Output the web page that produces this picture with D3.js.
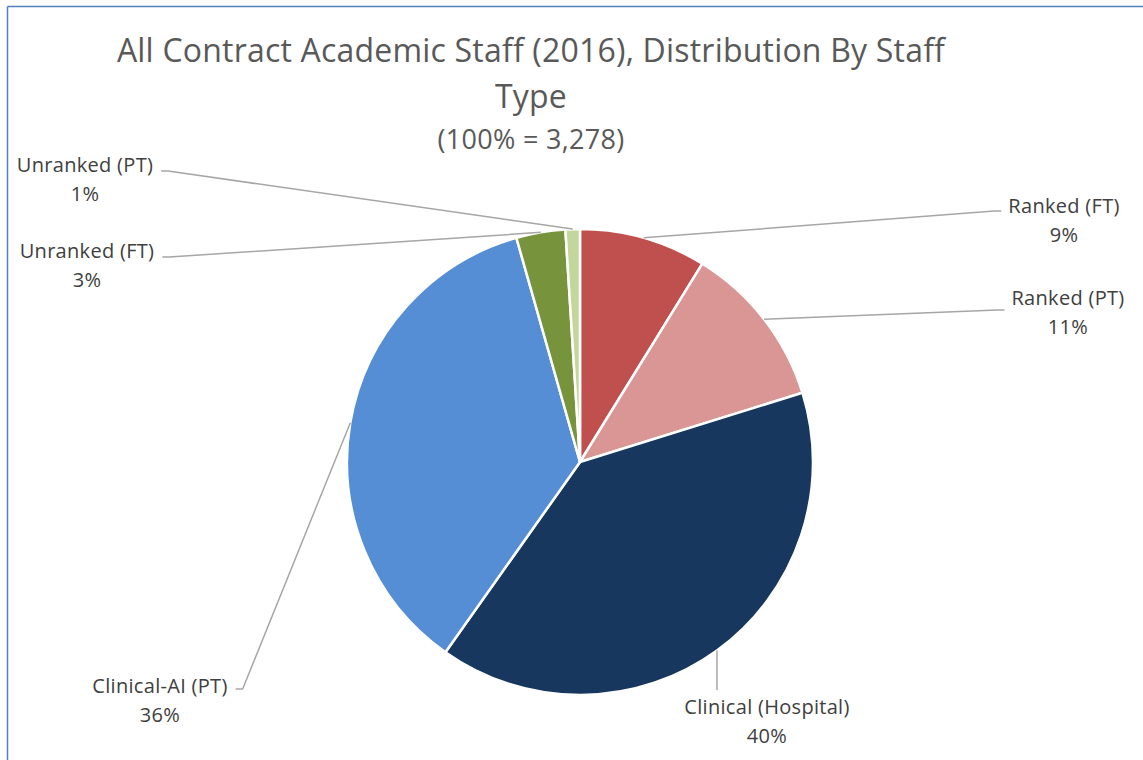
<!DOCTYPE html>
<html><head><meta charset="utf-8">
<script src="https://cdn.jsdelivr.net/npm/d3@7"></script>
<style>
html,body{margin:0;padding:0;background:#fff;}
svg{display:block;}
text{font-family:"Open Sans",Lato,sans-serif;fill:#595959;}
</style></head>
<body>
<svg id="chart" width="1143" height="760"></svg>
<script>
// ---- data ----
const categories = ["Ranked (FT)", "Ranked (PT)", "Clinical (Hospital)", "Clinical-AI (PT)", "Unranked (FT)", "Unranked (PT)"];
const shares = [8.8, 11.4, 39.6, 35.8, 3.4, 1.0];
const shareLabels = ["9%", "11%", "40%", "36%", "3%", "1%"];
const colors = ["#C0504D", "#D99694", "#17375E", "#558ED5", "#77933C", "#C3D69B"];
const titleLines = ["All Contract Academic Staff (2016), Distribution By Staff", "Type"];
const subtitle = "(100% = 3,278)";

// ---- layout (label anchors, not data) ----
const W = 1143, H = 760;
const cx = 580, cy = 462, R = 233;
const labelLayout = [
  {x: 1064, y: 213, side: "right", elbowY: 211},
  {x: 1068, y: 305, side: "right", elbowY: 310},
  {x: 767,  y: 714, side: "down"},
  {x: 160,  y: 693, side: "left", elbowY: 689},
  {x: 87,   y: 258, side: "left", elbowY: 257},
  {x: 85,   y: 172, side: "left", elbowY: 171}
];

const svg = d3.select("#chart");

// frame
svg.append("line").attr("x1", 7.5).attr("x2", W).attr("y1", 6.5).attr("y2", 6.5)
  .attr("stroke", "#4F81BD").attr("stroke-width", 1.5);
svg.append("line").attr("x1", 7.5).attr("x2", 7.5).attr("y1", 6.5).attr("y2", H)
  .attr("stroke", "#4F81BD").attr("stroke-width", 1.5);

// title
const tx = 531;
svg.append("text").attr("x", tx).attr("y", 62).attr("text-anchor", "middle")
  .style("font-size", "32px").style("letter-spacing", "0.2px").text(titleLines[0]);
svg.append("text").attr("x", tx).attr("y", 108).attr("text-anchor", "middle")
  .style("font-size", "32px").style("letter-spacing", "0.2px").text(titleLines[1]);
svg.append("text").attr("x", tx).attr("y", 149).attr("text-anchor", "middle")
  .style("font-size", "27px").style("letter-spacing", "0.3px").text(subtitle);

// pie
const data = categories.map((c, i) => ({name: c, value: shares[i], label: shareLabels[i], color: colors[i], lay: labelLayout[i]}));
const pie = d3.pie().value(d => d.value).sort(null);
const arcs = pie(data);
const arc = d3.arc().innerRadius(0).outerRadius(R);

const g = svg.append("g").attr("transform", `translate(${cx},${cy})`);
g.selectAll("path").data(arcs).join("path")
  .attr("d", arc)
  .attr("fill", d => d.data.color)
  .attr("stroke", "#fff").attr("stroke-width", 2.5).attr("stroke-linejoin", "round");

// labels
const lab = svg.append("g");
const widths = [];
arcs.forEach(a => {
  const L = a.data.lay;
  const t = lab.append("text").attr("text-anchor", "middle").style("font-size", "20px")
    .style("letter-spacing", "0.3px").style("fill", "#404040");
  const s1 = t.append("tspan").attr("x", L.x).attr("y", L.y).text(a.data.name);
  t.append("tspan").attr("x", L.x).attr("y", L.y + 29).text(a.data.label);
  widths.push(s1.node().getComputedTextLength());
});

// leader lines
const leaders = svg.append("g").attr("fill", "none").attr("stroke", "#A6A6A6").attr("stroke-width", 1.5);
arcs.forEach((a, i) => {
  const mid = (a.startAngle + a.endAngle) / 2;
  const sx = cx + R * Math.sin(mid), sy = cy - R * Math.cos(mid);
  const L = a.data.lay;
  const half = widths[i] / 2;
  let pts;
  if (L.side === "right") {
    const endX = L.x - half - 7;
    pts = [[sx, sy], [endX - 7, L.elbowY], [endX, L.elbowY]];
  } else if (L.side === "left") {
    const endX = L.x + half + 8;
    pts = [[sx, sy], [endX + 7, L.elbowY], [endX, L.elbowY]];
  } else {
    pts = [[sx, sy], [sx, L.y - 24]];
  }
  leaders.append("path").attr("d", d3.line()(pts));
});
</script>
</body></html>
